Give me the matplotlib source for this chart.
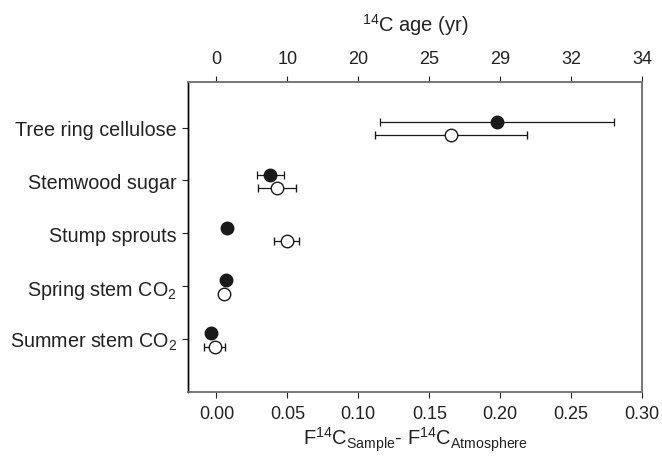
import matplotlib
matplotlib.use("Agg")
import matplotlib.pyplot as plt
import numpy as np

plt.rcParams['font.family'] = ['Liberation Sans', 'DejaVu Sans']
plt.rcParams['mathtext.default'] = 'regular'

categories = ["Tree ring cellulose", "Stemwood sugar", "Stump sprouts",
              "Spring stem CO$_2$", "Summer stem CO$_2$"]
filled_vals = [0.198, 0.038, 0.0075, 0.0071, -0.0035]
filled_err = [0.0825, 0.0093, 0.0, 0.0, 0.0]
open_vals = [0.1656, 0.0428, 0.0496, 0.0052, -0.0012]
open_err = [0.0535, 0.0133, 0.0089, 0.0, 0.0075]
bottom_ticks = [0.00, 0.05, 0.10, 0.15, 0.20, 0.25, 0.30]
bottom_labels = ["0.00", "0.05", "0.10", "0.15", "0.20", "0.25", "0.30"]
top_labels = ["0", "10", "20", "25", "29", "32", "34"]

fig = plt.figure(figsize=(6.62, 4.64), dpi=100)
ax = fig.add_axes([0.284, 0.153, 0.686, 0.668])

n = len(categories)
ypos = np.arange(n, 0, -1).astype(float)

ax.errorbar(filled_vals, ypos + 0.11, xerr=filled_err, fmt='o', color='#1a1a1a',
            mfc='#1a1a1a', mec='#1a1a1a', ms=9, elinewidth=0.9, capsize=3,
            capthick=0.9, zorder=3)
ax.errorbar(open_vals, ypos - 0.14, xerr=open_err, fmt='o', color='#1a1a1a',
            mfc='white', mec='#1a1a1a', ms=9, elinewidth=0.9, capsize=3,
            capthick=0.9, mew=1.0, zorder=3)

ax.set_xlim(-0.02, 0.30)
ax.set_ylim(0, 5.86)
ax.set_xticks(bottom_ticks)
ax.set_xticklabels(bottom_labels, fontsize=13)
ax.set_yticks(ypos)
ax.set_yticklabels(categories, fontsize=14.2)
ax.tick_params(axis='x', direction='out', length=4, width=0.8, colors='#222222', pad=5)
ax.tick_params(axis='y', direction='out', length=4, width=0.8, pad=4, colors='#222222')
ax.set_xlabel("F$^{14}$C$_{Sample}$- F$^{14}$C$_{Atmosphere}$", fontsize=14.5,
              labelpad=2, color='#222222')

ax2 = ax.twiny()
ax2.set_xlim(ax.get_xlim())
ax2.set_xticks(bottom_ticks)
ax2.set_xticklabels(top_labels, fontsize=13)
ax2.tick_params(axis='x', direction='out', length=4, width=0.8, colors='#222222', pad=7)
ax2.set_xlabel("$^{14}$C age (yr)", fontsize=14.5, labelpad=14, color='#222222')

for a in (ax, ax2):
    a.spines['left'].set_color('black')
    a.spines['left'].set_linewidth(1.0)
    for s in ('top', 'bottom', 'right'):
        a.spines[s].set_color('#777777')
        a.spines[s].set_linewidth(1.2)

fig.savefig("out.png", dpi=100)
